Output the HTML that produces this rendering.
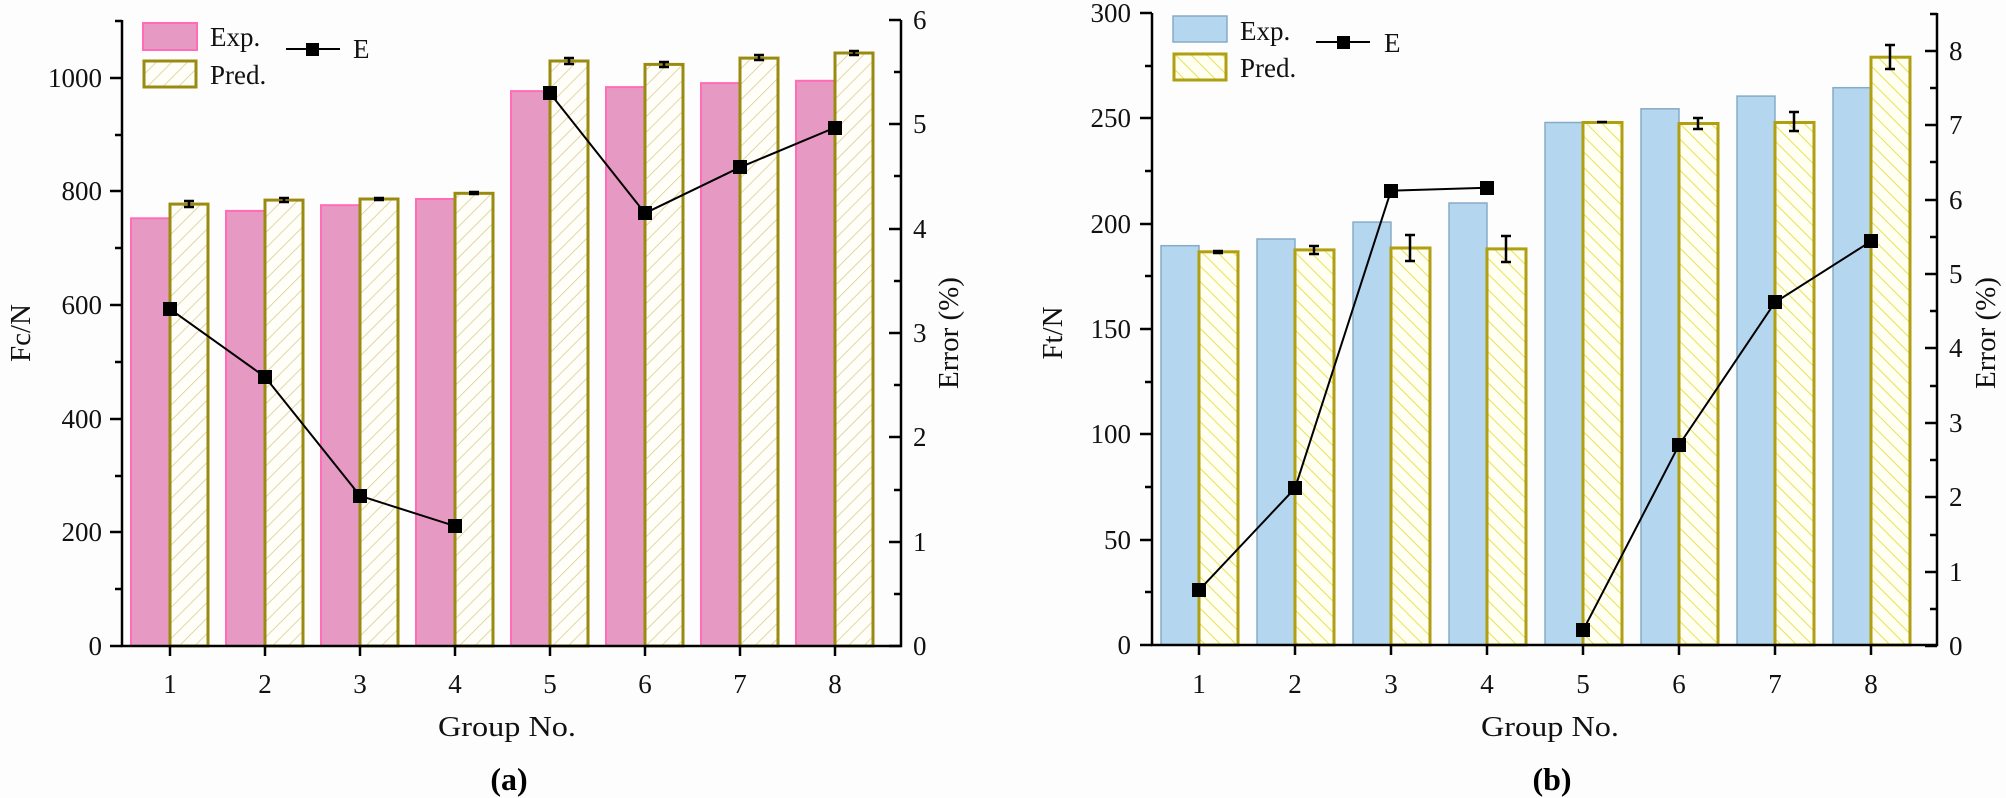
<!DOCTYPE html>
<html><head><meta charset="utf-8"><style>html,body{margin:0;padding:0;background:#fdfdfd}svg{display:block}</style></head>
<body>
<svg width="2006" height="798" viewBox="0 0 2006 798" xmlns="http://www.w3.org/2000/svg" font-family="Liberation Serif, serif">
<defs>
<pattern id="hl" patternUnits="userSpaceOnUse" width="11" height="11" patternTransform="rotate(45)">
<rect width="11" height="11" fill="#fffef8"/><line x1="0" y1="0" x2="0" y2="11" stroke="#d9cd95" stroke-width="1.6"/></pattern>
<pattern id="hr" patternUnits="userSpaceOnUse" width="11" height="11" patternTransform="rotate(-45)">
<rect width="11" height="11" fill="#fffff2"/><line x1="0" y1="0" x2="0" y2="11" stroke="#e6dc4a" stroke-width="1.8"/></pattern>
</defs>
<rect width="2006" height="798" fill="#fdfdfd"/>

<!-- LEFT CHART bars -->
<g stroke="#ff6cb8" stroke-width="2" fill="#e69ac3">
<rect x="131" y="218.3" width="39" height="427.7"/>
<rect x="226" y="210.9" width="39" height="435.1"/>
<rect x="321" y="205.2" width="39" height="440.8"/>
<rect x="416" y="199" width="39" height="447"/>
<rect x="511" y="91.1" width="39" height="554.9"/>
<rect x="606" y="87.1" width="39" height="558.9"/>
<rect x="701" y="83.1" width="39" height="562.9"/>
<rect x="796" y="80.8" width="39" height="565.2"/>
</g>
<g stroke="#9a8a10" stroke-width="3" fill="url(#hl)">
<rect x="170" y="204.1" width="38" height="441.9"/>
<rect x="265" y="200.1" width="38" height="445.9"/>
<rect x="360" y="199" width="38" height="447"/>
<rect x="455" y="193.3" width="38" height="452.7"/>
<rect x="550" y="61" width="38" height="585"/>
<rect x="645" y="64.4" width="38" height="581.6"/>
<rect x="740" y="58.1" width="38" height="587.9"/>
<rect x="835" y="53" width="38" height="593"/>
</g>
<g stroke="#000" stroke-width="2.5">
<path d="M189 201v6M184 201h10M184 207h10"/>
<path d="M284 198v4M279 198h10M279 202h10"/>
<path d="M379 198v2M374 198h10M374 200h10"/>
<path d="M474 192v2M469 192h10M469 194h10"/>
<path d="M569 58v6M564 58h10M564 64h10"/>
<path d="M664 62v5M659 62h10M659 67h10"/>
<path d="M759 55v5M754 55h10M754 60h10"/>
<path d="M854 51v4M849 51h10M849 55h10"/>
</g>
<g stroke="#000" stroke-width="2" fill="none">
<polyline points="170,309.1 265,376.9 360,495.8 455,526.1"/>
<polyline points="550,93.2 645,213.2 740,167.3 835,127.6"/>
</g>
<g fill="#000">
<rect x="163" y="302" width="14" height="14"/><rect x="258" y="370" width="14" height="14"/>
<rect x="353" y="489" width="14" height="14"/><rect x="448" y="519" width="14" height="14"/>
<rect x="543" y="86" width="14" height="14"/><rect x="638" y="206" width="14" height="14"/>
<rect x="733" y="160" width="14" height="14"/><rect x="828" y="121" width="14" height="14"/>
</g>
<!-- left axes -->
<g stroke="#000" stroke-width="2.5" fill="none">
<path d="M122 20V646H901V20"/>
<path d="M110 646h12M110 532h12M110 419h12M110 305h12M110 191h12M110 78h12"/>
<path d="M115 589h7M115 476h7M115 362h7M115 248h7M115 135h7M115 21h7"/>
<path d="M170 646v10M265 646v10M360 646v10M455 646v10M550 646v10M645 646v10M740 646v10M835 646v10"/>
<path d="M889 646h12M889 542h12M889 437h12M889 333h12M889 229h12M889 124h12M889 20h12"/>
<path d="M894 594h7M894 490h7M894 385h7M894 281h7M894 176h7M894 72h7"/>
</g>
<g font-size="27" text-anchor="end" fill="#111">
<text x="102" y="655">0</text><text x="102" y="541">200</text><text x="102" y="428">400</text>
<text x="102" y="314">600</text><text x="102" y="200">800</text><text x="102" y="87">1000</text>
</g>
<g font-size="27" fill="#111">
<text x="913" y="655">0</text><text x="913" y="551">1</text><text x="913" y="446">2</text><text x="913" y="342">3</text>
<text x="913" y="238">4</text><text x="913" y="133">5</text><text x="913" y="29">6</text>
</g>
<g font-size="27" text-anchor="middle" fill="#111">
<text x="170" y="693">1</text><text x="265" y="693">2</text><text x="360" y="693">3</text><text x="455" y="693">4</text>
<text x="550" y="693">5</text><text x="645" y="693">6</text><text x="740" y="693">7</text><text x="835" y="693">8</text>
</g>
<text x="438" y="736" font-size="29" textLength="138" lengthAdjust="spacingAndGlyphs" fill="#111">Group No.</text>
<text transform="translate(30,333) rotate(-90)" font-size="29" text-anchor="middle" fill="#111">Fc/N</text>
<text transform="translate(958,333) rotate(-90)" font-size="29" text-anchor="middle" fill="#111">Error (%)</text>
<text x="509" y="790" font-size="32" font-weight="bold" text-anchor="middle" fill="#000">(a)</text>
<!-- left legend -->
<rect x="143" y="23" width="54" height="27" fill="#e69ac3" stroke="#ff6cb8" stroke-width="2"/>
<rect x="144" y="61" width="52" height="26" fill="url(#hl)" stroke="#9a8a10" stroke-width="3"/>
<text x="210" y="46" font-size="27" fill="#111">Exp.</text>
<text x="210" y="84" font-size="27" fill="#111">Pred.</text>
<path d="M286 49h54" stroke="#000" stroke-width="2"/><rect x="306" y="43" width="13" height="13" fill="#000"/>
<text x="353" y="58" font-size="27" fill="#111">E</text>

<!-- RIGHT CHART bars -->
<g stroke="#86abc8" stroke-width="1.5" fill="#b4d6ee">
<rect x="1161" y="245.7" width="38" height="399.3"/>
<rect x="1257" y="239" width="38" height="406"/>
<rect x="1353" y="222.1" width="38" height="422.9"/>
<rect x="1449" y="203" width="38" height="442"/>
<rect x="1545" y="122.5" width="38" height="522.5"/>
<rect x="1641" y="108.8" width="38" height="536.2"/>
<rect x="1737" y="96.1" width="38" height="548.9"/>
<rect x="1833" y="87.7" width="38" height="557.3"/>
</g>
<g stroke="#b0a010" stroke-width="3" fill="url(#hr)">
<rect x="1199" y="251.8" width="39" height="393.2"/>
<rect x="1295" y="249.9" width="39" height="395.1"/>
<rect x="1391" y="248" width="39" height="397"/>
<rect x="1487" y="248.9" width="39" height="396.1"/>
<rect x="1583" y="122.5" width="39" height="522.5"/>
<rect x="1679" y="123.5" width="39" height="521.5"/>
<rect x="1775" y="122.5" width="39" height="522.5"/>
<rect x="1871" y="57.2" width="39" height="587.8"/>
</g>
<g stroke="#000" stroke-width="2.5">
<path d="M1218 251v2M1213 251h10M1213 253h10"/>
<path d="M1314 246v8M1309 246h10M1309 254h10"/>
<path d="M1410 235v26M1405 235h10M1405 261h10"/>
<path d="M1506 236v26M1501 236h10M1501 262h10"/>
<path d="M1602 122v1M1597 122h10"/>
<path d="M1698 118v11M1693 118h10M1693 129h10"/>
<path d="M1794 112v19M1789 112h10M1789 131h10"/>
<path d="M1890 45v24M1885 45h10M1885 69h10"/>
</g>
<g stroke="#000" stroke-width="2" fill="none">
<polyline points="1199,590.2 1295,488.3 1391,190.7 1487,187.7"/>
<polyline points="1583,630.4 1679,445.1 1775,302.3 1871,241.3"/>
</g>
<g fill="#000">
<rect x="1192" y="583" width="14" height="14"/><rect x="1288" y="481" width="14" height="14"/>
<rect x="1384" y="184" width="14" height="14"/><rect x="1480" y="181" width="14" height="14"/>
<rect x="1576" y="623" width="14" height="14"/><rect x="1672" y="438" width="14" height="14"/>
<rect x="1768" y="295" width="14" height="14"/><rect x="1864" y="234" width="14" height="14"/>
</g>
<g stroke="#000" stroke-width="2.5" fill="none">
<path d="M1152 13V645H1937V13"/>
<path d="M1140 645h12M1140 540h12M1140 434h12M1140 329h12M1140 224h12M1140 118h12M1140 13h12"/>
<path d="M1145 592h7M1145 487h7M1145 382h7M1145 276h7M1145 171h7M1145 66h7"/>
<path d="M1199 645v10M1295 645v10M1391 645v10M1487 645v10M1583 645v10M1679 645v10M1775 645v10M1871 645v10"/>
<path d="M1925 646h12M1925 572h12M1925 497h12M1925 423h12M1925 348h12M1925 274h12M1925 200h12M1925 125h12M1925 51h12"/>
<path d="M1930 609h7M1930 535h7M1930 460h7M1930 386h7M1930 311h7M1930 237h7M1930 162h7M1930 88h7M1930 14h7"/>
</g>
<g font-size="27" text-anchor="end" fill="#111">
<text x="1131" y="654">0</text><text x="1131" y="549">50</text><text x="1131" y="443">100</text>
<text x="1131" y="338">150</text><text x="1131" y="233">200</text><text x="1131" y="127">250</text><text x="1131" y="22">300</text>
</g>
<g font-size="27" fill="#111">
<text x="1949" y="655">0</text><text x="1949" y="581">1</text><text x="1949" y="506">2</text><text x="1949" y="432">3</text>
<text x="1949" y="357">4</text><text x="1949" y="283">5</text><text x="1949" y="209">6</text><text x="1949" y="134">7</text><text x="1949" y="60">8</text>
</g>
<g font-size="27" text-anchor="middle" fill="#111">
<text x="1199" y="693">1</text><text x="1295" y="693">2</text><text x="1391" y="693">3</text><text x="1487" y="693">4</text>
<text x="1583" y="693">5</text><text x="1679" y="693">6</text><text x="1775" y="693">7</text><text x="1871" y="693">8</text>
</g>
<text x="1481" y="736" font-size="29" textLength="138" lengthAdjust="spacingAndGlyphs" fill="#111">Group No.</text>
<text transform="translate(1062,333) rotate(-90)" font-size="29" text-anchor="middle" fill="#111">Ft/N</text>
<text transform="translate(1995,333) rotate(-90)" font-size="29" text-anchor="middle" fill="#111">Error (%)</text>
<text x="1552" y="790" font-size="32" font-weight="bold" text-anchor="middle" fill="#000">(b)</text>
<!-- right legend -->
<rect x="1173" y="16" width="54" height="26" fill="#b4d6ee" stroke="#86abc8" stroke-width="1.5"/>
<rect x="1174" y="54" width="52" height="26" fill="url(#hr)" stroke="#b0a010" stroke-width="3"/>
<text x="1240" y="40" font-size="27" fill="#111">Exp.</text>
<text x="1240" y="77" font-size="27" fill="#111">Pred.</text>
<path d="M1316 42h54" stroke="#000" stroke-width="2"/><rect x="1337" y="36" width="13" height="13" fill="#000"/>
<text x="1384" y="52" font-size="27" fill="#111">E</text>
</svg>
</body></html>
